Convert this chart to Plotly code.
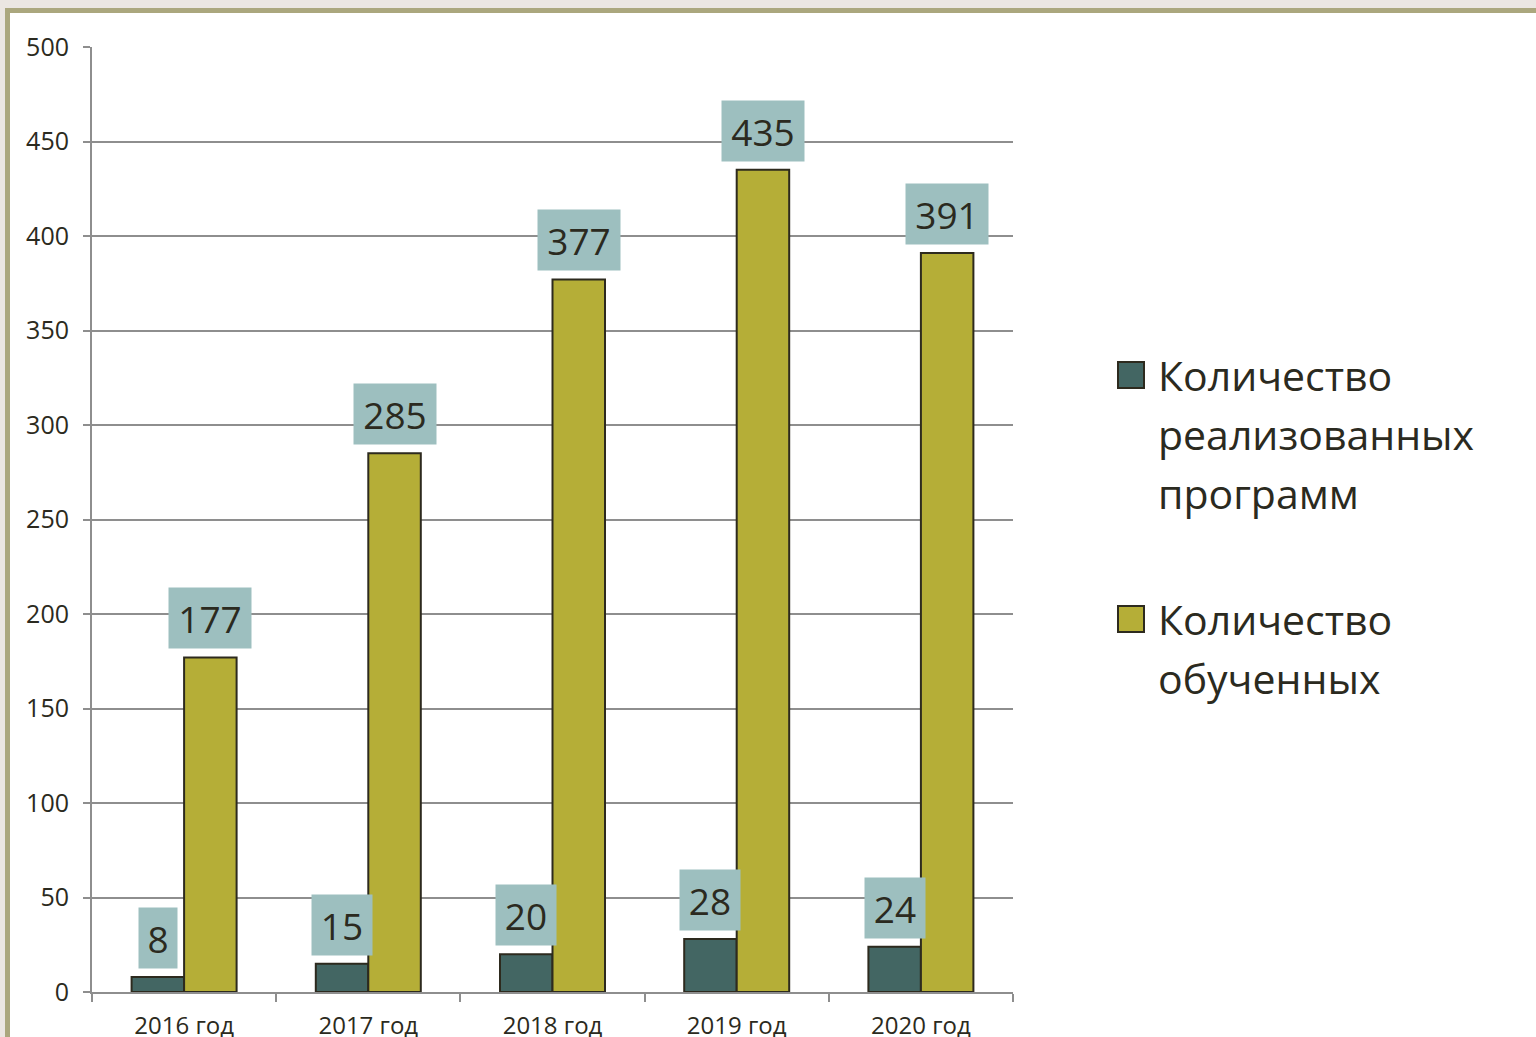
import plotly.graph_objects as go

# Data
years = ["2016 год", "2017 год", "2018 год", "2019 год", "2020 год"]
programs = [8, 15, 20, 28, 24]
trained = [177, 285, 377, 435, 391]
series_names = ["Количество реализованных программ", "Количество обученных"]
legend_lines = [["Количество", "реализованных", "программ"], ["Количество", "обученных"]]

DARK = "#436663"
OLIVE = "#B5AE37"
EDGE = "#2D2A1E"
LABEL_BG = "#9DBFBF"
TEXT = "#2B2A20"
GRID = "#8E8E8E"
FONT = "Open Sans"

W, H = 1536, 1037
L, R, T, B = 92, 1013, 47, 992


def px_x(px):
    return (px - L) / (R - L)


def px_y(py):
    return (B - py) / (B - T)


fig = go.Figure()
fig.add_trace(go.Bar(x=years, y=programs, name=series_names[0],
                     marker=dict(color=DARK, line=dict(color=EDGE, width=2))))
fig.add_trace(go.Bar(x=years, y=trained, name=series_names[1],
                     marker=dict(color=OLIVE, line=dict(color=EDGE, width=2))))

bargap = 0.43
off = (1 - bargap) / 4

# data labels with background boxes
annotations = []
for i in range(len(years)):
    for vals, dx in ((programs, -off), (trained, off)):
        txt = str(vals[i])
        annotations.append(dict(
            x=i + dx, y=vals[i], xref="x", yref="y", text=txt,
            showarrow=False, yanchor="bottom", yshift=8,
            bgcolor=LABEL_BG, borderpad=4,
            width=22 * len(txt) + 8, height=52,
            font=dict(family=FONT, size=37, color=TEXT),
        ))

# outer frame + custom legend
shapes = [
    dict(type="rect", xref="paper", yref="paper",
         x0=px_x(7.5), x1=px_x(1560), y0=px_y(10.5), y1=px_y(1060),
         fillcolor="white", line=dict(color="#ABA77E", width=5), layer="below"),
]
legend_tops = [375, 619]
for k, (color, lines) in enumerate(zip([DARK, OLIVE], legend_lines)):
    yc = legend_tops[k]
    shapes.append(dict(type="rect", xref="paper", yref="paper",
                       x0=px_x(1118), x1=px_x(1144), y0=px_y(yc - 13), y1=px_y(yc + 13),
                       fillcolor=color, line=dict(color=EDGE, width=2)))
    for j, line in enumerate(lines):
        annotations.append(dict(
            x=px_x(1156), y=px_y(yc + 59 * j), xref="paper", yref="paper",
            text=line, showarrow=False, xanchor="left", yanchor="middle",
            font=dict(family=FONT, size=41, color=TEXT),
        ))

fig.update_layout(
    width=W, height=H,
    margin=dict(l=L, r=W - R, t=T, b=H - B),
    paper_bgcolor="#EBE6E2",
    plot_bgcolor="rgba(0,0,0,0)",
    barmode="group", bargap=bargap, bargroupgap=0,
    showlegend=False,
    font=dict(family=FONT, color=TEXT),
    shapes=shapes,
    annotations=annotations,
)
fig.update_yaxes(
    range=[0, 500], dtick=50, showgrid=True, gridcolor=GRID, gridwidth=2,
    showline=True, linecolor=GRID, linewidth=2, zeroline=False,
    ticks="outside", ticklen=7, tickcolor=GRID, tickwidth=2,
    ticklabelstandoff=9, automargin=False,
    tickfont=dict(family=FONT, size=25, color=TEXT),
)
fig.update_xaxes(
    showline=True, linecolor=GRID, linewidth=2, showgrid=False,
    ticks="outside", tickson="boundaries", ticklen=8, tickcolor=GRID, tickwidth=2,
    ticklabelstandoff=11, automargin=False,
    tickfont=dict(family=FONT, size=24, color=TEXT),
)

fig.write_html("out.html", config={"displayModeBar": False},
               post_script="document.body.style.margin='0';")
